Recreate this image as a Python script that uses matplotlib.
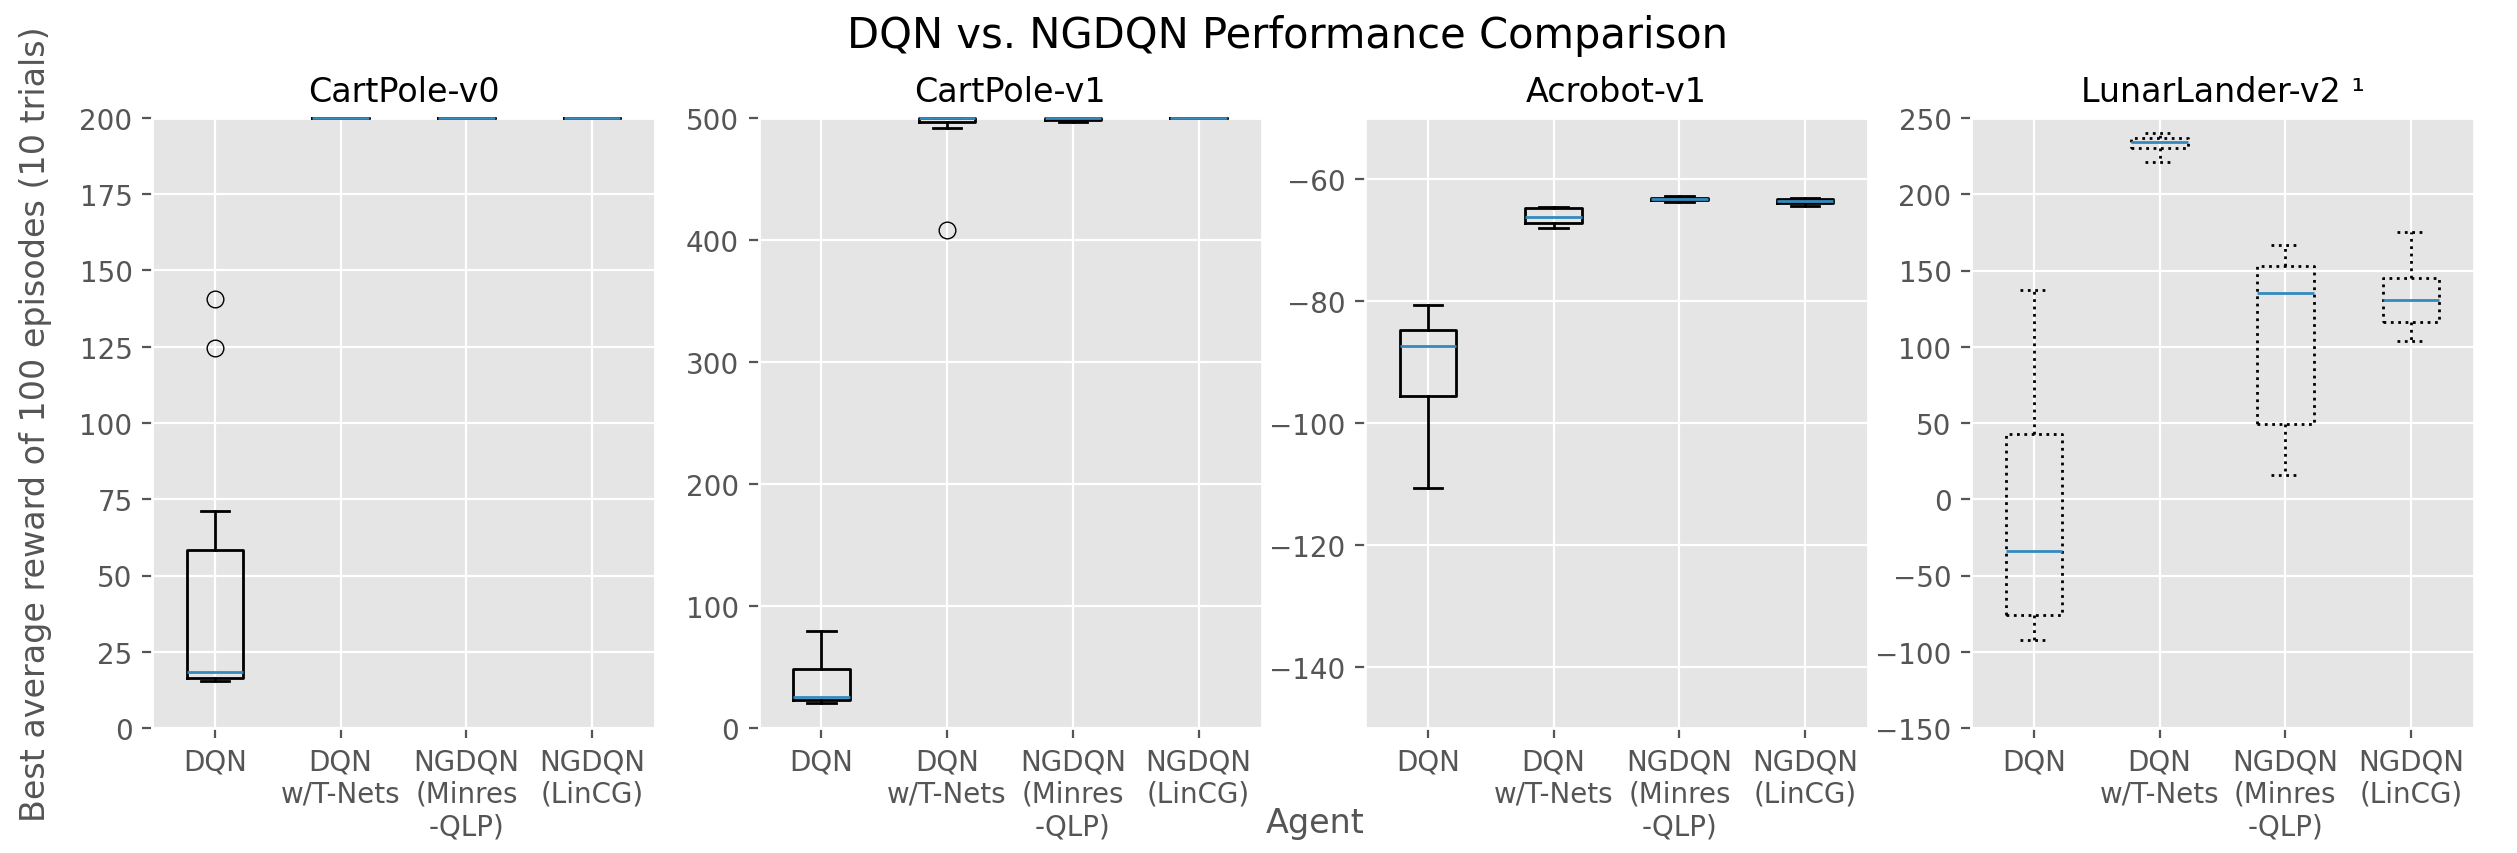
import matplotlib
matplotlib.use("Agg")
import matplotlib.pyplot as plt

plt.style.use("ggplot")

agents = ["DQN", "DQN\nw/T-Nets", "NGDQN\n(Minres\n-QLP)", "NGDQN\n(LinCG)"]
envs = ["CartPole-v0", "CartPole-v1", "Acrobot-v1", "LunarLander-v2 \u00b9"]

# box statistics per environment, one value per agent
cp0_whislo = [15.5, 200, 200, 200]
cp0_q1 = [16.3, 200, 200, 200]
cp0_med = [18.3, 200, 200, 200]
cp0_q3 = [58.5, 200, 200, 200]
cp0_whishi = [71.2, 200, 200, 200]
cp0_fliers = [[140.6, 124.5], [], [], []]

cp1_whislo = [20.6, 491.8, 496.6, 500]
cp1_q1 = [22.6, 496.7, 498.4, 500]
cp1_med = [25.3, 500, 499.8, 500]
cp1_q3 = [48.3, 500, 500, 500]
cp1_whishi = [79.7, 500, 500, 500]
cp1_fliers = [[], [408.5], [], []]

acro_whislo = [-110.7, -68.1, -63.75, -64.4]
acro_q1 = [-95.6, -67.2, -63.5, -64.0]
acro_med = [-87.3, -66.3, -63.3, -63.65]
acro_q3 = [-84.7, -64.8, -63.1, -63.35]
acro_whishi = [-80.6, -64.6, -62.85, -63.05]
acro_fliers = [[], [], [], []]

ll_whislo = [-92.2, 221, 16.2, 103.8]
ll_q1 = [-75.7, 230, 49.5, 116.2]
ll_med = [-34.1, 234, 135.4, 130.8]
ll_q3 = [43.0, 237, 153.2, 145.1]
ll_whishi = [137.3, 240, 166.5, 175.1]
ll_fliers = [[], [], [], []]

panels = [
    (cp0_whislo, cp0_q1, cp0_med, cp0_q3, cp0_whishi, cp0_fliers),
    (cp1_whislo, cp1_q1, cp1_med, cp1_q3, cp1_whishi, cp1_fliers),
    (acro_whislo, acro_q1, acro_med, acro_q3, acro_whishi, acro_fliers),
    (ll_whislo, ll_q1, ll_med, ll_q3, ll_whishi, ll_fliers),
]
ylims = [(0, 200), (0, 500), (-150, -50), (-150, 250)]
yticks = [range(0, 201, 25), range(0, 501, 100), range(-140, -59, 20), range(-150, 251, 50)]
dotted = [False, False, False, True]

W, H = 2517, 854
fig = plt.figure(figsize=(W / 200, H / 200), dpi=200)

ax_w = 503 / W
ax_h = (729 - 119) / H
ax_b = 1 - 729 / H
lefts = [152, 758.5, 1365, 1971]

for i in range(4):
    ax = fig.add_axes([lefts[i] / W, ax_b, ax_w, ax_h])
    wl, q1, md, q3, wh, fl = panels[i]
    stats = []
    for j in range(4):
        stats.append(dict(whislo=wl[j], q1=q1[j], med=md[j], q3=q3[j],
                          whishi=wh[j], fliers=fl[j], label=agents[j]))
    ls = ":" if dotted[i] else "-"
    parts = ax.bxp(stats,
                   boxprops=dict(color="black", linestyle=ls, linewidth=1.0),
                   whiskerprops=dict(color="black", linestyle=ls, linewidth=1.0),
                   capprops=dict(color="black", linestyle=ls, linewidth=1.0),
                   medianprops=dict(color="#348ABD", linestyle="-", linewidth=1.0),
                   flierprops=dict(marker="o", markerfacecolor="none",
                                   markeredgecolor="black", markersize=6,
                                   markeredgewidth=0.5))
    for key in ("boxes", "whiskers", "caps", "medians", "fliers"):
        for art in parts[key]:
            art.set_clip_on(False)
            art.set_zorder(4 if key == "medians" else 3)
    ax.set_ylim(*ylims[i])
    ax.set_yticks(list(yticks[i]))
    ax.set_title(envs[i], fontsize=12, color="black")
    ax.tick_params(labelsize=10)
    if i == 0:
        ax.set_ylabel("Best average reward of 100 episodes (10 trials)",
                      fontsize=12, color="#555555", labelpad=10)

fig.suptitle("DQN vs. NGDQN Performance Comparison", x=0.5117, y=0.958,
             va="center", fontsize=15)
fig.text(0.5225, 0.036, "Agent", ha="center", va="center", fontsize=12,
         color="#555555")

fig.savefig("out.png", dpi=200)
